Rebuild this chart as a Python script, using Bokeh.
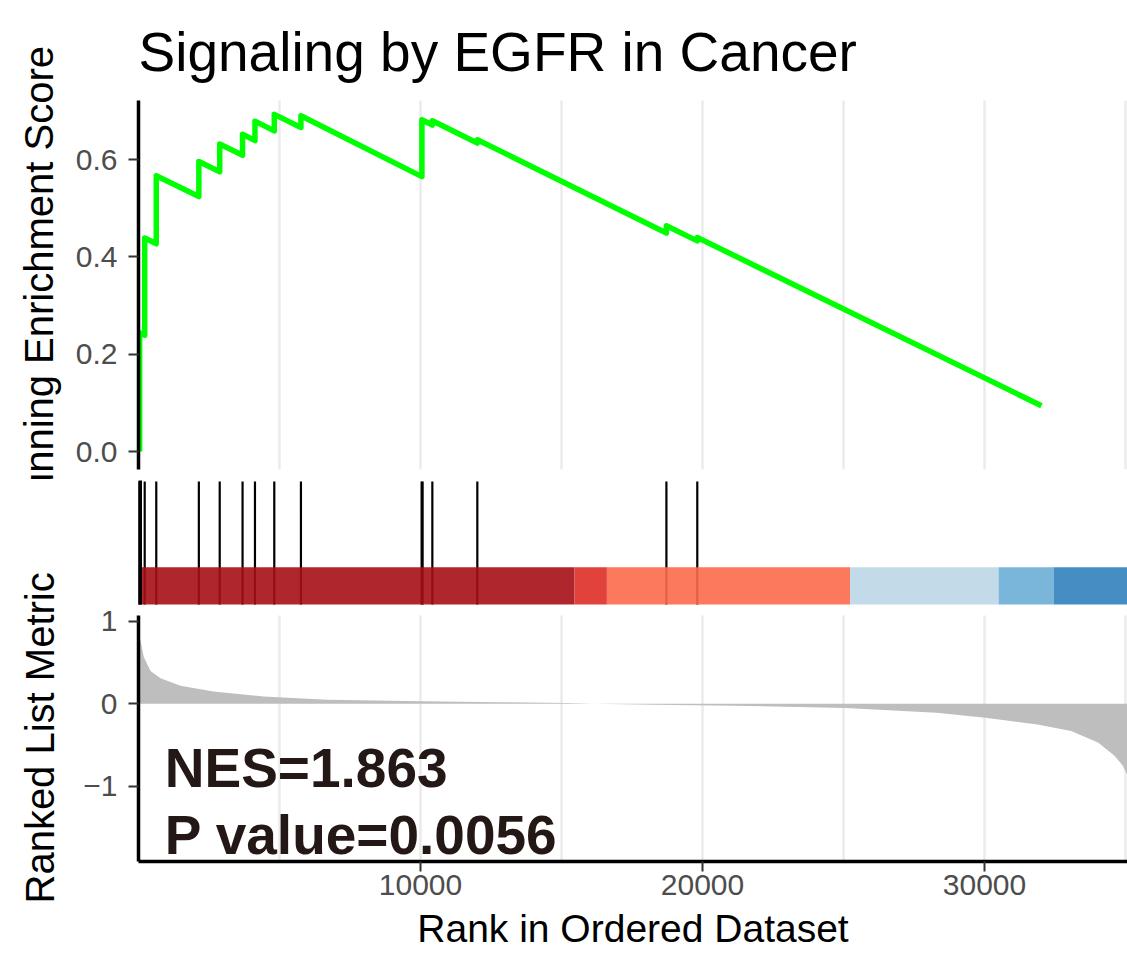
from bokeh.plotting import figure
from bokeh.layouts import column
from bokeh.models import Range1d, FixedTicker, Grid, PrintfTickFormatter, Title
from bokeh.core.properties import value
from bokeh.embed import file_html
from bokeh.resources import INLINE

FONT = "Liberation Sans"

# ---------------- data ----------------
title_text = "Signaling by EGFR in Cancer"
es_label = "Running Enrichment Score"
metric_label = "Ranked List Metric"
x_label = "Rank in Ordered Dataset"
nes_text = "NES=1.863"
p_text = "P value=0.0056"

# running enrichment score: corner points of the step curve
es_rank = [40, 40, 220, 220, 630, 630, 2140, 2140, 2880, 2880, 3690, 3690,
           4130, 4130, 4815, 4815, 5760, 5760, 10050, 10050, 10420, 10420,
           12015, 12015, 18720, 18720, 19815, 19815, 32020]
es_score = [0.0, 0.244, 0.239, 0.439, 0.427, 0.567, 0.524, 0.596, 0.575, 0.632,
            0.609, 0.652, 0.639, 0.679, 0.659, 0.693, 0.666, 0.690, 0.565, 0.682,
            0.671, 0.680, 0.634, 0.641, 0.449, 0.464, 0.433, 0.440, 0.094]

# positions of gene-set members in the ranked list
hit_ranks = [10, 40, 220, 630, 2140, 2880, 3690, 4130, 4815, 5760,
             10040, 10075, 10420, 12015, 18720, 19815]

# colour bar segments
bar_start = [0, 15460, 16610, 25230, 30500, 32450]
bar_end = [15460, 16610, 25230, 30500, 32450, 36000]
bar_colors = ["#A50F15", "#DE2D26", "#FB6A4A", "#BDD7E7", "#6BAED6", "#3182BD"]

# ranked list metric (sampled along the sorted list)
metric_rank = [1, 71, 188, 426, 780, 1489, 2660, 4433, 6702, 10035, 12748,
               15177, 16135, 18333, 21135, 25071, 28298, 30035, 31879, 33071,
               34025, 34610, 34900, 35071]
metric_value = [0.80, 0.77, 0.57, 0.40, 0.31, 0.22, 0.15, 0.09, 0.05, 0.03,
                0.02, 0.01, 0.0, -0.012, -0.024, -0.05, -0.11, -0.17, -0.25,
                -0.33, -0.47, -0.63, -0.75, -0.87]

grid_ticks = [5000, 10000, 15000, 20000, 25000, 30000, 35000]
x_ticks = [10000, 20000, 30000]
es_ticks = [0.0, 0.2, 0.4, 0.6]
metric_ticks = [-1, 0, 1]
metric_tick_labels = {-1: "\u22121", 0: "0", 1: "1"}

# ---------------- styling ----------------
W = 1127
XR = Range1d(0, 35071)
GRID_COLOR = "#EBEBEB"
TICK_COLOR = "#4D4D4D"
MET_LO, MET_HI = -1.916, 1.073      # extent of the metric panel
HIT_LO, HIT_HI = -0.435, 1.0        # hits / colour-bar extent


def style_left_axis(ax):
    ax.axis_line_color = "black"
    ax.axis_line_width = 3.5
    ax.major_tick_line_color = "#333333"
    ax.major_tick_line_width = 2
    ax.major_tick_out = 10
    ax.major_tick_in = 0
    ax.minor_tick_line_color = None
    ax.major_label_text_font = FONT
    ax.major_label_text_font_size = "30px"
    ax.major_label_text_color = TICK_COLOR
    ax.major_label_standoff = 11
    ax.axis_label_text_font = FONT
    ax.axis_label_text_font_size = "40px"
    ax.axis_label_text_font_style = "normal"
    ax.axis_label_text_color = "black"


# ---------------- top: running enrichment score ----------------
p1 = figure(width=W, height=479, x_range=XR, y_range=Range1d(-0.037, 0.7215),
            output_backend="svg", toolbar_location=None, x_axis_location=None,
            min_border_left=138, min_border_right=0, min_border_top=100,
            min_border_bottom=10, title=title_text)
p1.outline_line_color = None
p1.ygrid.grid_line_color = None
p1.title.text_font = FONT
p1.title.text_font_size = "55px"
p1.title.text_font_style = "normal"
p1.title.text_color = "black"
p1.title.align = "left"
p1.title.standoff = 36
p1.add_layout(Grid(dimension=0, ticker=FixedTicker(ticks=grid_ticks),
                   grid_line_color=GRID_COLOR, grid_line_width=2.5))
p1.line(es_rank, es_score, line_color="#00FF00", line_width=5.5, line_join="round")
ax1 = p1.yaxis[0]
ax1.ticker = FixedTicker(ticks=es_ticks)
ax1.formatter = PrintfTickFormatter(format="%.1f")
ax1.axis_label = es_label
style_left_axis(ax1)
ax1.axis_label_standoff = 12

# ---------------- bottom: hits, colour bar and ranked list metric ----------------
p2 = figure(width=W, height=481, x_range=XR, y_range=Range1d(MET_LO, 2.713),
            output_backend="svg", toolbar_location=None,
            min_border_left=138, min_border_right=0, min_border_top=1,
            min_border_bottom=99)
p2.extra_y_ranges = {"hits": Range1d(-3.434, 1.0117)}
p2.outline_line_color = None
p2.xgrid.grid_line_color = None
p2.ygrid.grid_line_color = None

# grid lines only inside the metric panel
p2.segment(x0=grid_ticks, y0=MET_LO, x1=grid_ticks, y1=MET_HI,
           line_color=GRID_COLOR, line_width=2.5)
p2.varea(x=metric_rank, y1=[0] * len(metric_rank), y2=metric_value,
         fill_color="#BEBEBE")
p2.segment(x0=hit_ranks, y0=HIT_LO, x1=hit_ranks, y1=HIT_HI,
           line_color="black", line_width=2.2, y_range_name="hits")
p2.quad(left=bar_start, right=bar_end, bottom=HIT_LO, top=0.0,
        fill_color=bar_colors, fill_alpha=0.9, line_color=None,
        y_range_name="hits")
# left axis line of the hits panel
p2.segment(x0=[0], y0=[HIT_LO], x1=[0], y1=[1.05], line_color="black",
           line_width=7, y_range_name="hits")
p2.text(x=[930, 930], y=[-0.786, -1.60], text=[nes_text, p_text],
        text_font=value(FONT), text_font_style="bold", text_font_size="55px",
        text_color="#231815", text_align="left", text_baseline="alphabetic")

ax3 = p2.yaxis[0]
ax3.ticker = FixedTicker(ticks=metric_ticks)
ax3.major_label_overrides = metric_tick_labels
ax3.bounds = (MET_LO, MET_HI)
style_left_axis(ax3)

# y label of the metric panel, centred on that panel (not on the whole frame)
p2.add_layout(Title(text=metric_label, align="left", offset=-42,
                    vertical_align="top", standoff=33,
                    text_font=FONT, text_font_size="40px",
                    text_font_style="normal", text_color="black"), "left")

xa = p2.xaxis[0]
xa.ticker = FixedTicker(ticks=x_ticks)
xa.axis_label = x_label
xa.axis_line_color = "black"
xa.axis_line_width = 3.5
xa.major_tick_line_color = "#333333"
xa.major_tick_line_width = 2
xa.major_tick_out = 10
xa.major_tick_in = 0
xa.minor_tick_line_color = None
xa.major_label_text_font = FONT
xa.major_label_text_font_size = "30px"
xa.major_label_text_color = TICK_COLOR
xa.major_label_standoff = 3
xa.axis_label_text_font = FONT
xa.axis_label_text_font_size = "39px"
xa.axis_label_text_font_style = "normal"
xa.axis_label_text_color = "black"
xa.axis_label_standoff = 9

layout = column(p1, p2, spacing=0)
open("out.html", "w").write(file_html(layout, INLINE))
